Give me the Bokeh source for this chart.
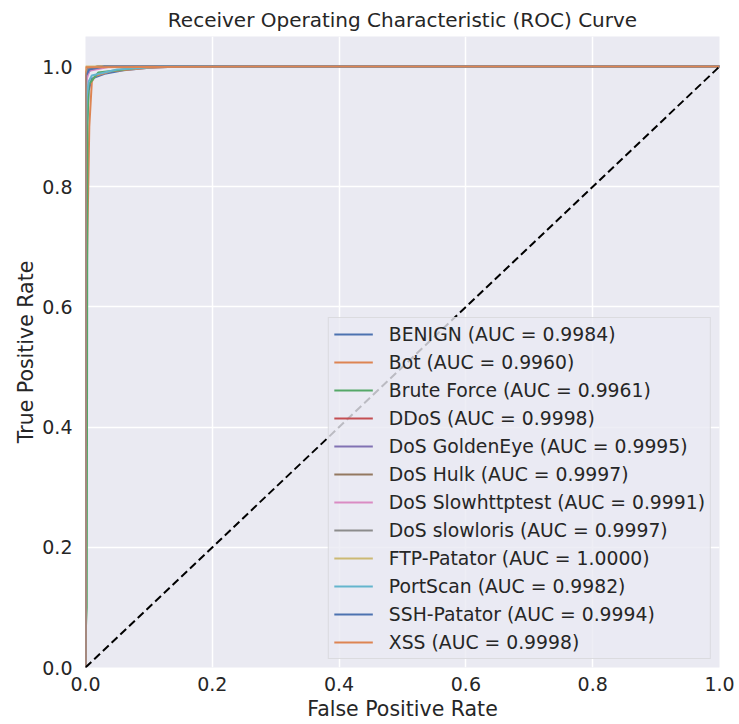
from bokeh.plotting import figure
from bokeh.models import Range1d, FixedTicker, Legend, LegendItem, NumeralTickFormatter
from bokeh.embed import file_html
from bokeh.resources import INLINE

classes = ["BENIGN", "Bot", "Brute Force", "DDoS", "DoS GoldenEye", "DoS Hulk",
           "DoS Slowhttptest", "DoS slowloris", "FTP-Patator", "PortScan",
           "SSH-Patator", "XSS"]
auc = [0.9984, 0.9960, 0.9961, 0.9998, 0.9995, 0.9997,
       0.9991, 0.9997, 1.0000, 0.9982, 0.9994, 0.9998]

fpr_benign = [0, 0, 0.002, 0.005, 0.01, 0.03, 0.06, 0.1, 0.15, 1]
tpr_benign = [0, 0.6, 0.9, 0.96, 0.98, 0.988, 0.994, 0.998, 1, 1]
fpr_bot = [0, 0, 0.003, 0.006, 0.01, 0.015, 0.04, 0.1, 0.15, 1]
tpr_bot = [0, 0.5, 0.72, 0.9, 0.975, 0.984, 0.992, 0.998, 1, 1]
fpr_brute = [0, 0, 0.002, 0.003, 0.005, 0.02, 0.1, 1]
tpr_brute = [0, 0.05, 0.1, 0.9, 0.97, 0.99, 1, 1]
fpr_ddos = [0, 0, 0.001, 0.005, 0.02, 1]
tpr_ddos = [0, 0.97, 0.992, 0.997, 1, 1]
fpr_goldeneye = [0, 0, 0.002, 0.008, 0.03, 1]
tpr_goldeneye = [0, 0.95, 0.985, 0.995, 1, 1]
fpr_hulk = [0, 0, 0.001, 0.004, 0.02, 1]
tpr_hulk = [0, 0.97, 0.99, 0.997, 1, 1]
fpr_slowhttp = [0, 0, 0.002, 0.006, 0.04, 1]
tpr_slowhttp = [0, 0.93, 0.98, 0.993, 1, 1]
fpr_slowloris = [0, 0, 0.001, 0.004, 0.02, 1]
tpr_slowloris = [0, 0.97, 0.99, 0.997, 1, 1]
fpr_ftp = [0, 0, 0.0005, 1]
tpr_ftp = [0, 0.999, 1, 1]
fpr_portscan = [0, 0, 0.002, 0.005, 0.01, 0.05, 0.12, 1]
tpr_portscan = [0, 0.85, 0.95, 0.975, 0.985, 0.995, 1, 1]
fpr_ssh = [0, 0, 0.001, 0.006, 0.03, 1]
tpr_ssh = [0, 0.96, 0.985, 0.995, 1, 1]
fpr_xss = [0, 0, 0.0005, 0.3, 1]
tpr_xss = [0, 0.99, 0.999, 1, 1]

fprs = [fpr_benign, fpr_bot, fpr_brute, fpr_ddos, fpr_goldeneye, fpr_hulk,
        fpr_slowhttp, fpr_slowloris, fpr_ftp, fpr_portscan, fpr_ssh, fpr_xss]
tprs = [tpr_benign, tpr_bot, tpr_brute, tpr_ddos, tpr_goldeneye, tpr_hulk,
        tpr_slowhttp, tpr_slowloris, tpr_ftp, tpr_portscan, tpr_ssh, tpr_xss]

diag_x = [0, 1]
diag_y = [0, 1]
ticks = [0.0, 0.2, 0.4, 0.6, 0.8, 1.0]

palette = ["#4c72b0", "#dd8452", "#55a868", "#c44e52", "#8172b3", "#937860",
           "#da8bc3", "#8c8c8c", "#ccb974", "#64b5cd", "#4c72b0", "#dd8452"]

FONT = "DejaVu Sans"
TXT = "#262626"

p = figure(width=739, height=724, output_backend="svg", toolbar_location=None,
           x_range=Range1d(0, 1), y_range=Range1d(0, 1.05),
           min_border_left=85, min_border_right=20, min_border_top=36,
           min_border_bottom=57,
           title="Receiver Operating Characteristic (ROC) Curve")

p.background_fill_color = "#eaeaf2"
p.border_fill_color = "white"
p.outline_line_color = None

p.title.text_font = FONT
p.title.text_font_size = "20px"
p.title.text_font_style = "normal"
p.title.text_color = TXT
p.title.align = "center"
p.title.offset = 0

for ax in (p.xaxis[0], p.yaxis[0]):
    ax.ticker = FixedTicker(ticks=ticks)
    ax.formatter = NumeralTickFormatter(format="0.0")
    ax.axis_line_color = None
    ax.major_tick_line_color = None
    ax.minor_tick_line_color = None
    ax.major_tick_out = 0
    ax.major_tick_in = 0
    ax.minor_tick_out = 0
    ax.minor_tick_in = 0
    ax.major_label_text_font = FONT
    ax.major_label_text_font_size = "19px"
    ax.major_label_text_color = TXT
    ax.axis_label_text_font = FONT
    ax.axis_label_text_font_size = "20.5px"
    ax.axis_label_text_font_style = "normal"
    ax.axis_label_text_color = TXT

p.xaxis.axis_label = "False Positive Rate"
p.yaxis.axis_label = "True Positive Rate"
p.xaxis.major_label_standoff = 9
p.yaxis.major_label_standoff = 13
p.xaxis.axis_label_standoff = 3
p.yaxis.axis_label_standoff = 1

for g in (p.xgrid[0], p.ygrid[0]):
    g.ticker = FixedTicker(ticks=ticks)
    g.grid_line_color = "white"
    g.grid_line_width = 1.5

items = []
for i, name in enumerate(classes):
    r = p.line(fprs[i], tprs[i], line_color=palette[i], line_width=2)
    items.append(LegendItem(label=f"{name} (AUC = {auc[i]:.4f})", renderers=[r]))

p.line(diag_x, diag_y, line_color="black", line_width=2, line_dash="8 4")

legend = Legend(items=items, location="bottom_right")
legend.label_text_font = FONT
legend.label_text_font_size = "18.8px"
legend.label_text_color = TXT
legend.background_fill_color = "#eaeaf2"
legend.background_fill_alpha = 0.8
legend.border_line_color = "#cccccc"
legend.border_line_width = 1
legend.glyph_width = 39
legend.glyph_height = 22
legend.label_height = 22
legend.spacing = 6
legend.label_standoff = 16
legend.padding = 5
legend.margin = 8
p.add_layout(legend)

open("out.html", "w").write(file_html(p, INLINE))
